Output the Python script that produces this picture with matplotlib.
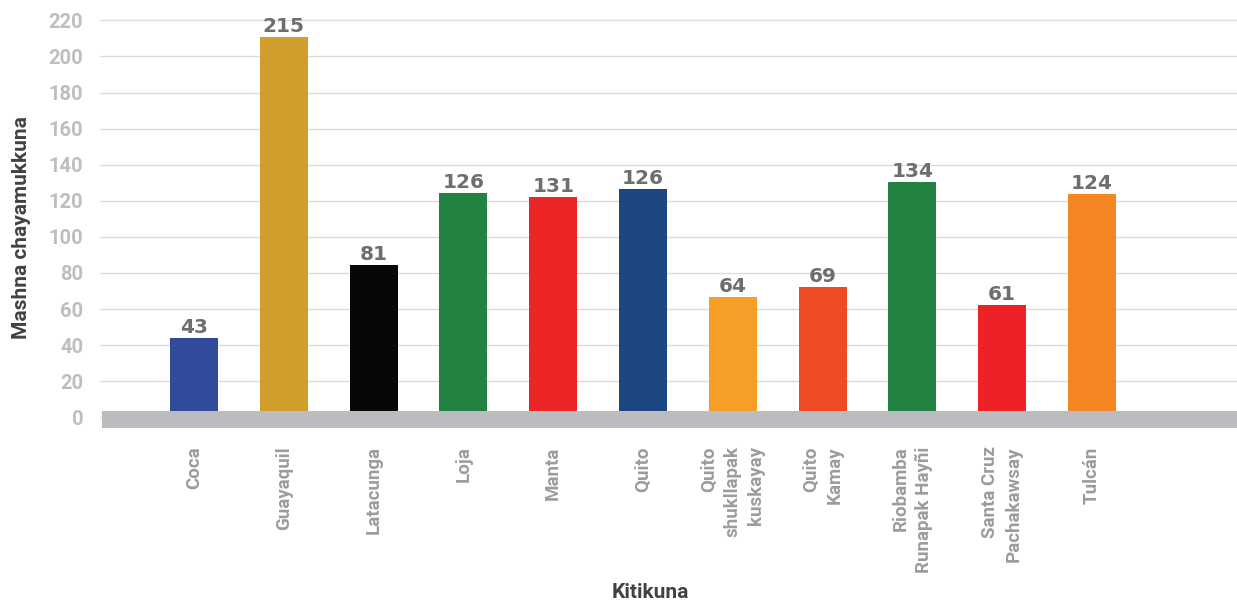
import numpy as np
import matplotlib
matplotlib.use("Agg")
import matplotlib.pyplot as plt

# Data
categories = ["Coca", "Guayaquil", "Latacunga", "Loja", "Manta", "Quito",
              "Quito\nshukllapak\nkuskayay", "Quito\nKamay",
              "Riobamba\nRunapak Hayñi", "Santa Cruz\nPachakawsay", "Tulcán"]
bar_heights = [44, 210.7, 84.4, 124.3, 122.1, 126.5, 66.7, 72.2, 130.4, 62.3, 123.8]
value_labels = ["43", "215", "81", "126", "131", "126", "64", "69", "134", "61", "124"]
bar_colors = ["#324a9b", "#d09f2b", "#070707", "#228242", "#ec2626", "#1b4680",
              "#f69f27", "#ee4b26", "#228242", "#ec2227", "#f48721"]
y_ticks = list(range(0, 221, 20))

narrow = ["Liberation Sans Narrow", "Roboto", "DejaVu Sans"]

fig = plt.figure(figsize=(12.37, 6.01), dpi=100)
ax = fig.add_axes([100 / 1237, 1 - 428.2 / 601, 1137 / 1237, 422.3 / 601])

x = np.arange(len(categories))
ax.bar(x, bar_heights, width=0.535, color=bar_colors, zorder=2)

# grey floor under the bars
ax.axhspan(-6, 3.5, xmin=2 / 1137, color="#bbbcc0", lw=0, zorder=3)

for xi, h, lab in zip(x, bar_heights, value_labels):
    ax.annotate(lab, (xi, h), xytext=(0, 3.5), textcoords="offset points",
                ha="center", va="baseline", fontsize=14.5, fontweight="heavy",
                color="#6d6e71", family="DejaVu Sans")

ax.set_xlim(-1.047, 11.615)
ax.set_ylim(-6, 228)
ax.set_yticks(y_ticks)
ax.set_yticklabels([str(t) for t in y_ticks], family=narrow, fontsize=14.5,
                   fontweight="bold", color="#bcbec0")
ax.set_xticks(x)
ax.set_xticklabels(categories, rotation=90, family=narrow, fontsize=13.5,
                   fontweight="bold", color="#9a9c9f", ha="center", va="top",
                   multialignment="right", linespacing=1.4)
ax.tick_params(axis="both", length=0)
ax.tick_params(axis="x", pad=13)
ax.tick_params(axis="y", pad=12)

ax.grid(axis="y", color="#dcdcdc", lw=1, zorder=0)
ax.set_axisbelow(True)
for s in ax.spines.values():
    s.set_visible(False)

fig.text(22 / 1237, 1 - 228 / 601, "Mashna chayamukkuna", rotation=90,
         ha="center", va="center", family=narrow, fontsize=15,
         fontweight="bold", color="#414042")
fig.text(650 / 1237, 1 - 592 / 601, "Kitikuna", ha="center", va="center",
         family=narrow, fontsize=15, fontweight="bold", color="#414042")

fig.savefig("out.png", dpi=100)
